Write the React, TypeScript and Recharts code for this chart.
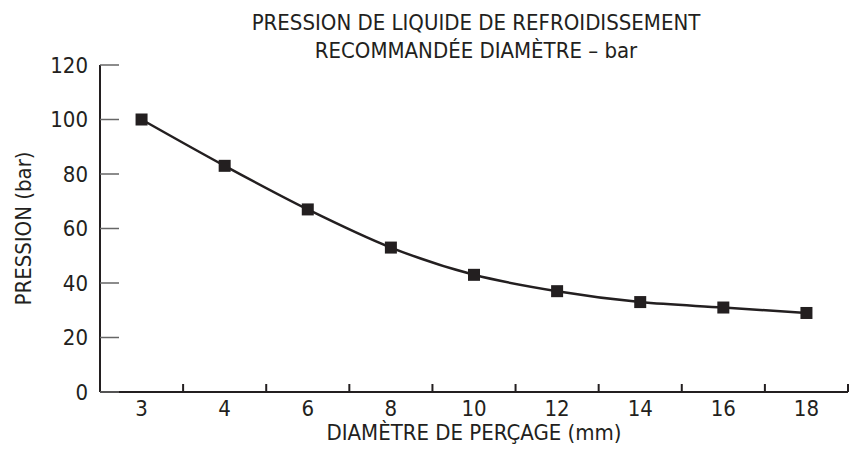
import React from 'react';
import { LineChart, Line, XAxis, YAxis } from 'recharts';

const diameters = ['3', '4', '6', '8', '10', '12', '14', '16', '18'];
const pressures = [100, 83, 67, 53, 43, 37, 33, 31, 29];
const yTicks = [0, 20, 40, 60, 80, 100, 120];
const titleLines = ['PRESSION DE LIQUIDE DE REFROIDISSEMENT', 'RECOMMANDÉE DIAMÈTRE – bar'];
const xTitle = 'DIAMÈTRE DE PERÇAGE (mm)';
const yTitle = 'PRESSION (bar)';

const data = diameters.map((d, i) => ({ d, p: pressures[i] }));

const FONT = '"Liberation Sans Narrow", "DejaVu Sans Condensed", "Roboto Condensed", "Liberation Sans", sans-serif';
const INK = '#231f20';
const FS = 22;

const YTick = (props: any) => {
  const { x, y, payload } = props;
  return (
    <g>
      <line x1={x} x2={x + 19} y1={y} y2={y} stroke="#666" strokeWidth={1.5} />
      <text x={x - 12} y={y} dy="0.36em" textAnchor="end" fontFamily={FONT} fontSize={FS} fill={INK}>
        {payload.value}
      </text>
    </g>
  );
};

const XTick = (props: any) => {
  const { x, y, payload, index, visibleTicksCount } = props;
  const half = payload && typeof payload.offset === 'number' && payload.offset > 0 ? payload.offset : 41.5;
  const last = index === (visibleTicksCount ?? diameters.length) - 1;
  return (
    <g>
      <line x1={x - half} x2={x - half} y1={y} y2={y - 8} stroke={INK} strokeWidth={2} />
      {last && <line x1={x + half} x2={x + half} y1={y} y2={y - 8} stroke={INK} strokeWidth={2} />}
      <text x={x} y={y + 24} textAnchor="middle" fontFamily={FONT} fontSize={FS} fill={INK}>
        {payload.value}
      </text>
    </g>
  );
};

const SquareDot = (props: any) => {
  const { cx, cy } = props;
  if (cx == null || cy == null) return null;
  return <rect x={cx - 6} y={cy - 6} width={12} height={12} fill={INK} />;
};

export default function App() {
  return (
    <div style={{ position: 'absolute', left: 0, top: 0, width: 853, height: 450, background: '#fff' }}>
      <LineChart width={853} height={450} data={data} margin={{ top: 65, right: 5, left: 0, bottom: 0 }}>
        <text x={476} y={30} textAnchor="middle" fontFamily={FONT} fontSize={FS} fill={INK}>
          {titleLines[0]}
        </text>
        <text x={476} y={58} textAnchor="middle" fontFamily={FONT} fontSize={FS} fill={INK}>
          {titleLines[1]}
        </text>
        <XAxis
          dataKey="d"
          type="category"
          scale="band"
          height={58}
          tickSize={0}
          tickMargin={0}
          tickLine={false}
          interval={0}
          axisLine={{ stroke: INK, strokeWidth: 2 }}
          tick={XTick}
          label={{
            content: (p: any) => {
              const vb = p.viewBox || { x: 100, width: 748, y: 392 };
              return (
                <text x={vb.x + vb.width / 2} y={440} textAnchor="middle" fontFamily={FONT} fontSize={FS} fill={INK}>
                  {xTitle}
                </text>
              );
            },
          }}
        />
        <YAxis
          type="number"
          domain={[0, 120]}
          ticks={yTicks}
          width={100}
          tickSize={0}
          tickMargin={0}
          tickLine={false}
          interval={0}
          axisLine={{ stroke: INK, strokeWidth: 2 }}
          tick={YTick}
          label={{
            content: (p: any) => {
              const vb = p.viewBox || { y: 65, height: 327 };
              const cy = vb.y + vb.height / 2;
              return (
                <text x={23} y={cy} transform={`rotate(-90, 23, ${cy})`} dy="0.36em" textAnchor="middle" fontFamily={FONT} fontSize={FS} fill={INK}>
                  {yTitle}
                </text>
              );
            },
          }}
        />
        <Line
          type="monotone"
          dataKey="p"
          stroke={INK}
          strokeWidth={2.5}
          dot={SquareDot}
          activeDot={false}
          isAnimationActive={false}
        />
      </LineChart>
    </div>
  );
}
